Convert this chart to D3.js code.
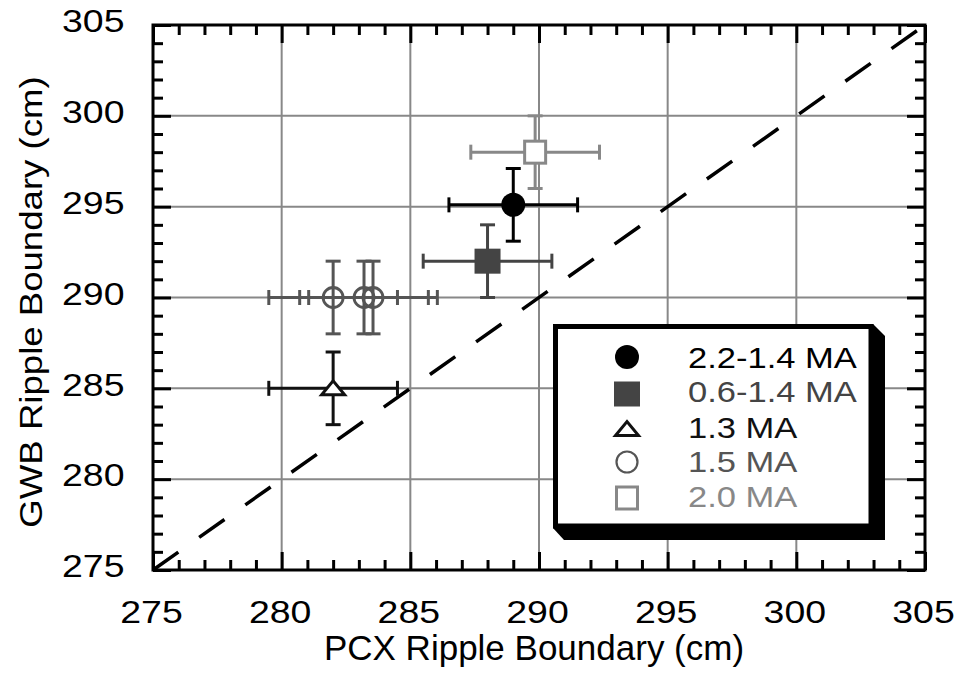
<!DOCTYPE html>
<html><head><meta charset="utf-8">
<script src="https://cdn.jsdelivr.net/npm/d3@7"></script>
<style>body{margin:0;background:#fff} text{font-family:"Liberation Sans",Arial,Helvetica,sans-serif}</style>
</head><body><svg id="c" width="963" height="675"></svg>
<script>
// ---- data ----
const seriesNames   = ["2.2-1.4 MA", "0.6-1.4 MA", "1.3 MA", "1.5 MA", "2.0 MA"];
const seriesColors  = ["#000000", "#444444", "#111111", "#555555", "#888888"];
const seriesSymbols = ["circle", "square", "triangle", "circle", "square"];
const seriesFilled  = [true, true, false, false, false];
const pointSeries = [0, 1, 2, 3, 3, 3, 4];
const pointX      = [289.0, 288.0, 282.0, 282.0, 283.2, 283.55, 289.85];
const pointY      = [295.1, 292.0, 285.0, 290.0, 290.0, 290.0, 298.0];
const pointXErr   = [2.5, 2.5, 2.5, 2.5, 2.5, 2.5, 2.5];
const pointYErr   = [2.0, 2.0, 2.0, 2.0, 2.0, 2.0, 2.0];
const majorTicks  = [275, 280, 285, 290, 295, 300, 305];
const minorTicks  = d3.range(275, 306, 1).filter(v => v % 5 !== 0);
const diagLine    = [275, 305];
const xTitle = "PCX Ripple Boundary (cm)";
const yTitle = "GWB Ripple Boundary (cm)";

// ---- layout ----
const L = 153, R = 925, T = 25, B = 570;
const x = d3.scaleLinear([275, 305], [L, R]);
const y = d3.scaleLinear([275, 305], [B, T]);
const svg = d3.select("#c");

function stretch(sel, f) {
  sel.each(function () {
    const len = this.getComputedTextLength();
    d3.select(this).attr("textLength", len * f).attr("lengthAdjust", "spacingAndGlyphs");
  });
}

// grid
const grid = svg.append("g").attr("stroke", "#888").attr("stroke-width", 2);
grid.selectAll(".gx").data(majorTicks.slice(1, -1)).join("line")
  .attr("x1", d => x(d)).attr("x2", d => x(d)).attr("y1", T).attr("y2", B);
grid.selectAll(".gy").data(majorTicks.slice(1, -1)).join("line")
  .attr("y1", d => y(d)).attr("y2", d => y(d)).attr("x1", L).attr("x2", R);

// axes (ticks pointing inward)
function styleAxis(g) {
  g.select(".domain").remove();
  g.selectAll(".tick line").attr("stroke", "#000").attr("stroke-width", 3);
}
const fmt = d3.format("d");
const axB = svg.append("g").attr("transform", `translate(0,${B})`)
  .call(d3.axisBottom(x).tickValues(majorTicks).tickSize(-18).tickFormat(fmt)).call(styleAxis);
svg.append("g").attr("transform", `translate(0,${B})`)
  .call(d3.axisBottom(x).tickValues(minorTicks).tickSize(-10).tickFormat("")).call(styleAxis);
svg.append("g").attr("transform", `translate(0,${T})`)
  .call(d3.axisTop(x).tickValues(majorTicks).tickSize(-18).tickFormat("")).call(styleAxis);
svg.append("g").attr("transform", `translate(0,${T})`)
  .call(d3.axisTop(x).tickValues(minorTicks).tickSize(-10).tickFormat("")).call(styleAxis);
const axL = svg.append("g").attr("transform", `translate(${L},0)`)
  .call(d3.axisLeft(y).tickValues(majorTicks).tickSize(-18).tickFormat(fmt).tickPadding(28.5)).call(styleAxis);
svg.append("g").attr("transform", `translate(${L},0)`)
  .call(d3.axisLeft(y).tickValues(minorTicks).tickSize(-10).tickFormat("")).call(styleAxis);
svg.append("g").attr("transform", `translate(${R},0)`)
  .call(d3.axisRight(y).tickValues(majorTicks).tickSize(-18).tickFormat("")).call(styleAxis);
svg.append("g").attr("transform", `translate(${R},0)`)
  .call(d3.axisRight(y).tickValues(minorTicks).tickSize(-10).tickFormat("")).call(styleAxis);

axB.selectAll(".tick text").attr("y", 52.7).attr("dy", 0).attr("x", -2)
  .attr("font-size", 32).attr("fill", "#000").attr("font-family", null).call(stretch, 1.17);
axL.selectAll(".tick text").attr("dy", 0).attr("y", 6.8)
  .attr("font-size", 32).attr("fill", "#000").attr("font-family", null).call(stretch, 1.17);

// frame
svg.append("rect").attr("x", L).attr("y", T).attr("width", R - L).attr("height", B - T)
  .attr("fill", "none").attr("stroke", "#000").attr("stroke-width", 3);

// titles
svg.append("text").attr("x", 534).attr("y", 660).attr("text-anchor", "middle")
  .attr("font-size", 35).text(xTitle).call(stretch, 1.0);
svg.append("text").attr("transform", "translate(42,302) rotate(-90)").attr("text-anchor", "middle")
  .attr("font-size", 31).text(yTitle).call(stretch, 1.18);

// diagonal dashed line
svg.append("line").attr("x1", x(diagLine[0])).attr("y1", y(diagLine[0]))
  .attr("x2", x(diagLine[1])).attr("y2", y(diagLine[1]))
  .attr("stroke", "#000").attr("stroke-width", 3.5).attr("stroke-dasharray", "31,25.5");

// error bars
const pts = pointX.map((v, i) => ({ x: v, y: pointY[i], xe: pointXErr[i], ye: pointYErr[i], s: pointSeries[i] }));
const cap = 7.5;
const eb = svg.append("g").attr("stroke-width", 3).attr("fill", "none");
pts.forEach(p => {
  const c = seriesColors[p.s];
  const g = eb.append("g").attr("stroke", c);
  const cx = x(p.x), cy = y(p.y);
  g.append("line").attr("x1", x(p.x - p.xe)).attr("x2", x(p.x + p.xe)).attr("y1", cy).attr("y2", cy);
  g.append("line").attr("x1", x(p.x - p.xe)).attr("x2", x(p.x - p.xe)).attr("y1", cy - cap).attr("y2", cy + cap);
  g.append("line").attr("x1", x(p.x + p.xe)).attr("x2", x(p.x + p.xe)).attr("y1", cy - cap).attr("y2", cy + cap);
  g.append("line").attr("x1", cx).attr("x2", cx).attr("y1", y(p.y - p.ye)).attr("y2", y(p.y + p.ye));
  g.append("line").attr("x1", cx - cap).attr("x2", cx + cap).attr("y1", y(p.y - p.ye)).attr("y2", y(p.y - p.ye));
  g.append("line").attr("x1", cx - cap).attr("x2", cx + cap).attr("y1", y(p.y + p.ye)).attr("y2", y(p.y + p.ye));
});

// markers
function drawSymbol(g, si, cx, cy, big) {
  const c = seriesColors[si], sym = seriesSymbols[si], filled = seriesFilled[si];
  if (sym === "circle") {
    if (filled) g.append("circle").attr("cx", cx).attr("cy", cy).attr("r", 12).attr("fill", c);
    else g.append("circle").attr("cx", cx).attr("cy", cy).attr("r", big ? 10 : 10.5).attr("fill", "none").attr("stroke", c).attr("stroke-width", big ? 2.8 : 2.2);
  } else if (sym === "square") {
    if (filled) g.append("rect").attr("x", cx - 13).attr("y", cy - 12.5).attr("width", 26).attr("height", 25).attr("fill", c);
    else g.append("rect").attr("x", cx - 10.5).attr("y", cy - 11).attr("width", 21).attr("height", 22).attr("fill", "#fff").attr("stroke", c).attr("stroke-width", 3);
  } else {
    g.append("path").attr("d", `M${cx - 11.5},${cy + 6.5}L${cx + 11.5},${cy + 6.5}L${cx},${cy - 7.5}Z`)
      .attr("fill", "#fff").attr("stroke", c).attr("stroke-width", 3).attr("stroke-linejoin", "miter");
  }
}
const mk = svg.append("g");
pts.forEach(p => drawSymbol(mk, p.s, x(p.x), y(p.y), true));

// legend
const lg = svg.append("g");
lg.append("path").attr("d", "M873,324L885,336L885,540L564,540L553,528Z").attr("fill", "#000");
lg.append("rect").attr("x", 555.5).attr("y", 326.5).attr("width", 315.5).attr("height", 199.5)
  .attr("fill", "#fff").attr("stroke", "#000").attr("stroke-width", 5);
const symY = [357, 394, 429, 462, 498];
const txtY = [368, 402, 438, 472, 507];
seriesNames.forEach((n, i) => {
  drawSymbol(lg, i, 627, symY[i], false);
  lg.append("text").attr("x", 688).attr("y", txtY[i]).attr("font-size", 30)
    .attr("fill", seriesColors[i]).text(n).call(stretch, 1.15);
});
</script></body></html>
